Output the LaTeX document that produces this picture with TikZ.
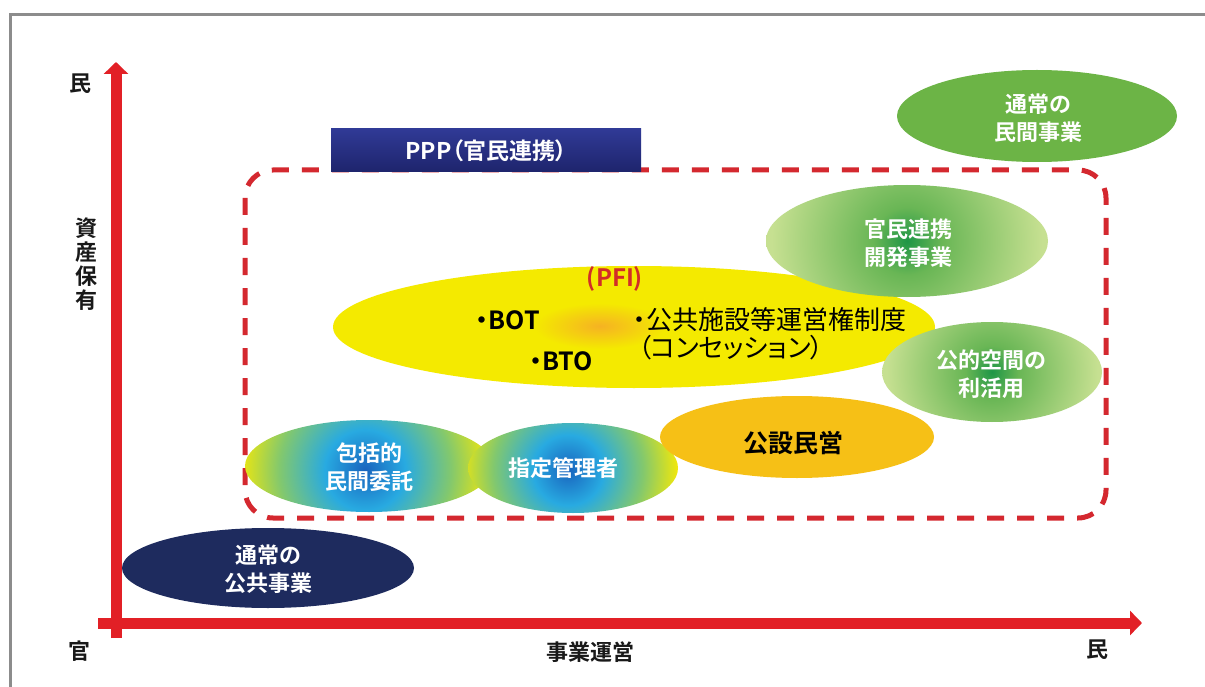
\documentclass[tikz,border=0pt]{standalone}
\usepackage{fontspec}
\usetikzlibrary{arrows.meta}
\newfontfamily\jp{Noto Sans CJK JP}[RawFeature=+palt, BoldFont={Noto Sans CJK JP Bold}]
\definecolor{axred}{RGB}{226,32,38}
\definecolor{dashred}{RGB}{212,40,47}
\definecolor{frame}{RGB}{140,140,140}
\definecolor{pppTop}{RGB}{48,58,150}
\definecolor{pppBot}{RGB}{30,36,108}
\definecolor{pfiY}{RGB}{244,234,0}
\definecolor{pfiO}{RGB}{245,178,35}
\definecolor{gold}{RGB}{246,192,22}
\definecolor{minG}{RGB}{108,180,70}
\definecolor{navy}{RGB}{30,43,94}
\definecolor{gA}{RGB}{30,150,70}
\definecolor{gB}{RGB}{105,182,85}
\definecolor{gC}{RGB}{198,224,145}
\definecolor{bA}{RGB}{25,100,190}
\definecolor{bB}{RGB}{40,170,225}
\definecolor{bC}{RGB}{130,200,110}
\definecolor{bD}{RGB}{242,232,10}
\definecolor{pfiRed}{RGB}{210,45,40}
\pgfdeclareradialshading{grnshade}{\pgfpoint{0bp}{0bp}}{color(0bp)=(gA); color(6bp)=(gB); color(24bp)=(gC); color(50bp)=(gC)}
\pgfdeclareradialshading{blushade}{\pgfpoint{0bp}{0bp}}{color(0bp)=(bA); color(8bp)=(bB); color(17bp)=(bC); color(25bp)=(bD); color(50bp)=(bD)}
\pgfdeclareradialshading{orshade}{\pgfpoint{0bp}{0bp}}{color(0bp)=(pfiO); color(22bp)=(pfiY); color(50bp)=(pfiY)}
\tikzset{
  axis/.style={draw=axred, line width=11pt, -{Triangle[width=24pt,length=12pt]}},
  dashbox/.style={draw=dashred, line width=5pt, dash pattern=on 17pt off 13pt, rounded corners=28pt},
  wtxt/.style={text=white, font=\jp\bfseries\fontsize{22}{28}\selectfont, align=center, inner sep=0pt},
  ktxt/.style={text=black!90, font=\jp\bfseries\fontsize{22}{24}\selectfont, align=center, inner sep=0pt},
  ptxt/.style={text=black, font=\jp\bfseries\fontsize{25}{28}\selectfont, inner sep=0pt},
  ctxt/.style={text=black, font=\jp\fontsize{26}{28}\selectfont, inner sep=0pt, anchor=west}
}
\begin{document}
\begin{tikzpicture}[x=1pt, y=-1pt]
\useasboundingbox (0,0) rectangle (1205,687);
\fill[white] (0,0) rectangle (1205,687);
\draw[frame, line width=3pt] (10,690) -- (10,15) -- (1208,15);

% axes
\coordinate (yb) at (116,638);
\coordinate (yt) at (116,62);
\coordinate (xl) at (98,623);
\coordinate (xr) at (1142,623);
\draw[axis] (yb) -- (yt);
\draw[axis] (xl) -- (xr);

% PPP region
\draw[dashbox] (245,170) rectangle (1106,518);
\shade[top color=pppTop, bottom color=pppBot] (331,129) rectangle (641,172);
\node[wtxt, font=\jp\bfseries\fontsize{23}{26}\selectfont] (tppp) at (486,151) {PPP（官民連携）};

% ellipses
\fill[minG] (1037,116) ellipse [x radius=140pt, y radius=46pt];
\fill[pfiY] (634,327) ellipse [x radius=301pt, y radius=61pt];
\shade[shading=orshade] (600,326) ellipse [x radius=75pt, y radius=26pt];
\begin{scope}
\clip (907,241) ellipse [x radius=141pt, y radius=56pt];
\shade[shading=grnshade] (907,241) circle (141pt);
\end{scope}
\begin{scope}
\clip (992,372) ellipse [x radius=110pt, y radius=50pt];
\shade[shading=grnshade] (992,372) circle (110pt);
\end{scope}
\begin{scope}
\clip (369,466) ellipse [x radius=124pt, y radius=46pt];
\shade[shading=blushade] (365,470) circle (126pt);
\end{scope}
\begin{scope}
\clip (573,468) ellipse [x radius=105pt, y radius=45pt];
\shade[shading=blushade] (568,470) circle (110pt);
\end{scope}
\fill[gold] (797,437) ellipse [x radius=137pt, y radius=41pt];
\fill[navy] (268,568) ellipse [x radius=146pt, y radius=40pt];

% texts
\node[wtxt] (tmin) at (1038,118) {通常の\\民間事業};
\node[wtxt] (tkk) at (908,243) {官民連携\\開発事業};
\node[wtxt] (tkt) at (991,374) {公的空間の\\利活用};
\node[wtxt] (thk) at (369,467) {包括的\\民間委託};
\node[wtxt] (tsk) at (563,468) {指定管理者};
\node[wtxt] (tkoj) at (268,569) {通常の\\公共事業};
\node[ptxt, font=\jp\fontsize{25}{28}\selectfont\bfseries] (tks) at (793,443) {公設民営};
\node[ptxt, text=pfiRed, font=\jp\bfseries\fontsize{24}{26}\selectfont] (tpfi) at (615,279) {(PFI)};
\node[ptxt] (tbot) at (508,320) {・BOT};
\node[ptxt] (tbto) at (561,361) {・BTO};
\node[ctxt] (tc1) at (633,320) {・公共施設等運営権制度};
\node[ctxt] (tc2) at (638,348) {（コンセッション）};

% axis labels
\node[ktxt] (lmt) at (80,84) {民};
\node[ktxt] (lsh) at (86,264) {資\\産\\保\\有};
\node[ktxt] (lkan) at (79,651) {官};
\node[ktxt] (ljg) at (590,652) {事業運営};
\node[ktxt] (lmr) at (1097,650) {民};
\end{tikzpicture}
\end{document}
